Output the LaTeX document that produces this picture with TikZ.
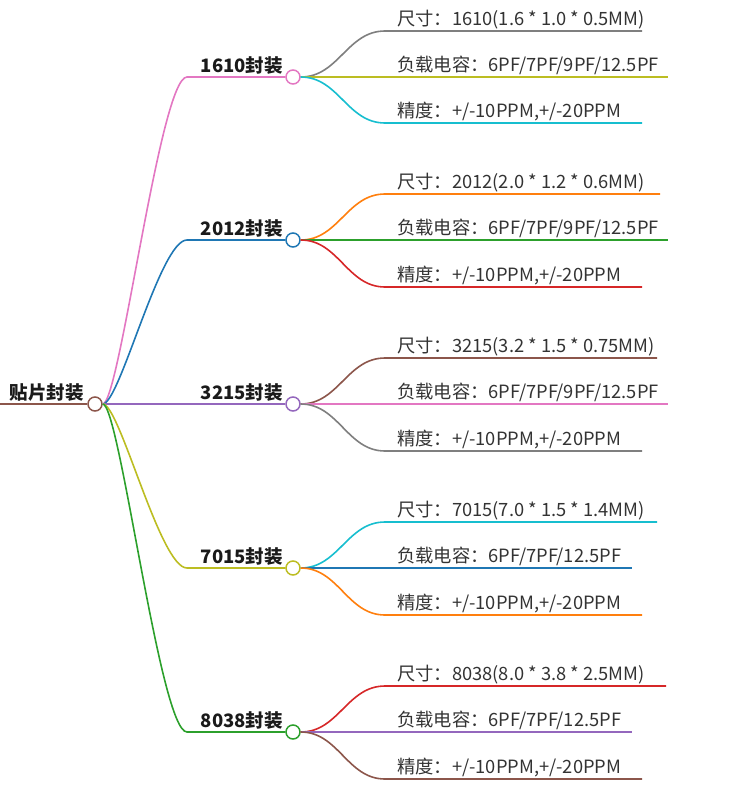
\documentclass[tikz,border=0pt]{standalone}
\usepackage{fontspec}
\setmainfont{Noto Sans CJK SC}
\newfontfamily\cjkfont{Noto Sans CJK SC}
\usetikzlibrary{calc}
\definecolor{tbblue}{HTML}{1F77B4}
\definecolor{tborange}{HTML}{FF7F0E}
\definecolor{tbgreen}{HTML}{2CA02C}
\definecolor{tbred}{HTML}{D62728}
\definecolor{tbpurple}{HTML}{9467BD}
\definecolor{tbbrown}{HTML}{8C564B}
\definecolor{tbpink}{HTML}{E377C2}
\definecolor{tbgray}{HTML}{7F7F7F}
\definecolor{tbolive}{HTML}{BCBD22}
\definecolor{tbcyan}{HTML}{17BECF}
\definecolor{txtdark}{HTML}{333333}
\definecolor{txtblack}{HTML}{1A1A1A}
\tikzset{
  conn/.style={line width=1.6pt},
  dotnode/.style={circle, draw, fill=white, minimum size=14pt, inner sep=0pt, line width=1.5pt},
  leaftext/.style={anchor=base west, inner sep=0pt, text=txtdark, font=\cjkfont\fontsize{18.3}{20}\selectfont},
  branchtext/.style={anchor=base east, inner sep=0pt, text=txtblack, font=\cjkfont\bfseries\fontsize{18.5}{20}\selectfont},
}
\newcommand\mmleaf[6]{% name, branch node, y, end x, color, text
  \coordinate (#1s) at (385,#3);
  \coordinate (#1e) at (#4,#3);
  \node[leaftext] (#1) at (397,#3-6) {#6};
  \draw[conn,#5] (#2.east) .. controls ($(#2.east)+(38,0)$) and ($(#1s)+(-38,0)$) .. (#1s) -- (#1e);
}
\newcommand\mmbranch[4]{% name, y, color, text
  \node[dotnode, draw=#3] (#1) at (293,#2) {};
  \coordinate (#1s) at (187,#2);
  \node[branchtext] (#1t) at (283,#2-5) {#4};
  \draw[conn,#3] (root.east) .. controls ($(root.east)+(17,0)$) and ($(#1s)+(-27,0)$) .. (#1s) -- (#1.west);
}
\begin{document}
\begin{tikzpicture}[x=1pt,y=-1pt]
\useasboundingbox (0,0) rectangle (753,795);
\node[dotnode, draw=tbbrown] (root) at (95,404) {};
\coordinate (rootin) at (0,404);
\draw[conn,tbbrown] (rootin) -- (root.west);
\node[branchtext] (roott) at (84,399) {贴片封装};

\mmbranch{b1}{77}{tbpink}{1610封装}
\mmbranch{b2}{240}{tbblue}{2012封装}
\mmbranch{b3}{404}{tbpurple}{3215封装}
\mmbranch{b4}{568}{tbolive}{7015封装}
\mmbranch{b5}{732}{tbgreen}{8038封装}

\mmleaf{l11}{b1}{31}{642}{tbgray}{尺寸：1610(1.6 * 1.0 * 0.5MM)}
\mmleaf{l12}{b1}{77}{668}{tbolive}{负载电容：6PF/7PF/9PF/12.5PF}
\mmleaf{l13}{b1}{123}{642}{tbcyan}{精度：+/-10PPM,+/-20PPM}

\mmleaf{l21}{b2}{194}{660}{tborange}{尺寸：2012(2.0 * 1.2 * 0.6MM)}
\mmleaf{l22}{b2}{240}{668}{tbgreen}{负载电容：6PF/7PF/9PF/12.5PF}
\mmleaf{l23}{b2}{287}{642}{tbred}{精度：+/-10PPM,+/-20PPM}

\mmleaf{l31}{b3}{358}{657}{tbbrown}{尺寸：3215(3.2 * 1.5 * 0.75MM)}
\mmleaf{l32}{b3}{404}{668}{tbpink}{负载电容：6PF/7PF/9PF/12.5PF}
\mmleaf{l33}{b3}{451}{642}{tbgray}{精度：+/-10PPM,+/-20PPM}

\mmleaf{l41}{b4}{522}{657}{tbcyan}{尺寸：7015(7.0 * 1.5 * 1.4MM)}
\mmleaf{l42}{b4}{568}{632}{tbblue}{负载电容：6PF/7PF/12.5PF}
\mmleaf{l43}{b4}{615}{642}{tborange}{精度：+/-10PPM,+/-20PPM}

\mmleaf{l51}{b5}{686}{666}{tbred}{尺寸：8038(8.0 * 3.8 * 2.5MM)}
\mmleaf{l52}{b5}{732}{632}{tbpurple}{负载电容：6PF/7PF/12.5PF}
\mmleaf{l53}{b5}{779}{642}{tbbrown}{精度：+/-10PPM,+/-20PPM}
\end{tikzpicture}
\end{document}
